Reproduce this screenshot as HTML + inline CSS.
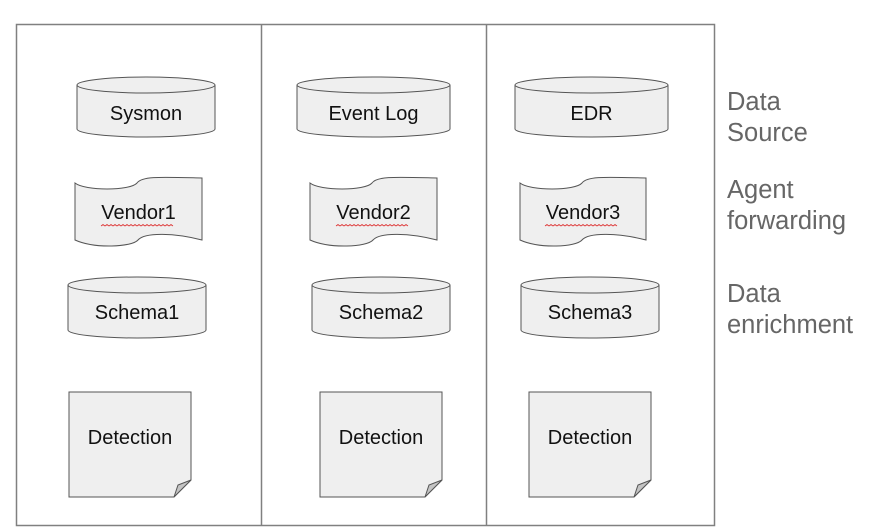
<!DOCTYPE html>
<html><head><meta charset="utf-8"><style>
html,body{margin:0;padding:0;background:#fff;}
svg{display:block;}
text{font-family:"Liberation Sans",sans-serif;}
</style></head><body>
<svg width="874" height="532" viewBox="0 0 874 532" xmlns="http://www.w3.org/2000/svg">
<g fill="none" stroke="#808080" stroke-width="1.5">
<rect x="16.5" y="24.5" width="698" height="501"/>
<line x1="261.5" y1="24.5" x2="261.5" y2="525.5"/>
<line x1="486.5" y1="24.5" x2="486.5" y2="525.5"/>
</g>
<g fill="#efefef" stroke="#555" stroke-width="1">
<path d="M77,85 A69,8 0 0 1 215,85 L215,129 A69,8 0 0 1 77,129 Z"/><path d="M77,85 A69,8 0 0 0 215,85" fill="none"/>
<path d="M297,85 A76.5,8 0 0 1 450,85 L450,129 A76.5,8 0 0 1 297,129 Z"/><path d="M297,85 A76.5,8 0 0 0 450,85" fill="none"/>
<path d="M515,85 A76.5,8 0 0 1 668,85 L668,129 A76.5,8 0 0 1 515,129 Z"/><path d="M515,85 A76.5,8 0 0 0 668,85" fill="none"/>
<path d="M68,285 A69,8 0 0 1 206,285 L206,330 A69,8 0 0 1 68,330 Z"/><path d="M68,285 A69,8 0 0 0 206,285" fill="none"/>
<path d="M312,285 A69,8 0 0 1 450,285 L450,330 A69,8 0 0 1 312,330 Z"/><path d="M312,285 A69,8 0 0 0 450,285" fill="none"/>
<path d="M521,285 A69,8 0 0 1 659,285 L659,330 A69,8 0 0 1 521,330 Z"/><path d="M521,285 A69,8 0 0 0 659,285" fill="none"/>
<path d="M75,183 C85,191 130,191 137,183 C142,176 160,177 202,178 L202,240 C175,233 145,232 138,240 C132,247 95,249 75,240 Z"/>
<path d="M310,183 C320,191 365,191 372,183 C377,176 395,177 437,178 L437,240 C410,233 380,232 373,240 C367,247 330,249 310,240 Z"/>
<path d="M520,183 C530,191 575,191 582,183 C587,176 605,177 646,178 L646,240 C619,233 589,232 582,240 C576,247 540,249 520,240 Z"/>
<path d="M69,392 L191,392 L191,480 L174,497 L69,497 Z"/>
<path d="M320,392 L442,392 L442,480 L425,497 L320,497 Z"/>
<path d="M529,392 L651,392 L651,480 L634,497 L529,497 Z"/>
</g>
<g fill="#c4c4c4" stroke="#555" stroke-width="1">
<path d="M191,480 L178,485 L174,497 Z"/>
<path d="M442,480 L429,485 L425,497 Z"/>
<path d="M651,480 L638,485 L634,497 Z"/>
</g>
<g font-size="20" fill="#111" text-anchor="middle">
<text x="146" y="120">Sysmon</text>
<text x="373.5" y="120">Event Log</text>
<text x="591.5" y="120">EDR</text>
<text x="138.5" y="219">Vendor1</text>
<text x="373.5" y="219">Vendor2</text>
<text x="583" y="219">Vendor3</text>
<text x="137" y="319">Schema1</text>
<text x="381" y="319">Schema2</text>
<text x="590" y="319">Schema3</text>
<text x="130" y="444">Detection</text>
<text x="381" y="444">Detection</text>
<text x="590" y="444">Detection</text>
</g>
<g stroke="#d33" stroke-width="0.8" fill="none">
<path d="M101,226 l2,-1.5 l2,1.5 l2,-1.5 l2,1.5 l2,-1.5 l2,1.5 l2,-1.5 l2,1.5 l2,-1.5 l2,1.5 l2,-1.5 l2,1.5 l2,-1.5 l2,1.5 l2,-1.5 l2,1.5 l2,-1.5 l2,1.5 l2,-1.5 l2,1.5 l2,-1.5 l2,1.5 l2,-1.5 l2,1.5 l2,-1.5 l2,1.5 l2,-1.5 l2,1.5 l2,-1.5 l2,1.5 l2,-1.5 l2,1.5 l2,-1.5 l2,1.5 l2,-1.5 l2,1.5"/>
<path d="M336,226 l2,-1.5 l2,1.5 l2,-1.5 l2,1.5 l2,-1.5 l2,1.5 l2,-1.5 l2,1.5 l2,-1.5 l2,1.5 l2,-1.5 l2,1.5 l2,-1.5 l2,1.5 l2,-1.5 l2,1.5 l2,-1.5 l2,1.5 l2,-1.5 l2,1.5 l2,-1.5 l2,1.5 l2,-1.5 l2,1.5 l2,-1.5 l2,1.5 l2,-1.5 l2,1.5 l2,-1.5 l2,1.5 l2,-1.5 l2,1.5 l2,-1.5 l2,1.5 l2,-1.5 l2,1.5"/>
<path d="M545,226 l2,-1.5 l2,1.5 l2,-1.5 l2,1.5 l2,-1.5 l2,1.5 l2,-1.5 l2,1.5 l2,-1.5 l2,1.5 l2,-1.5 l2,1.5 l2,-1.5 l2,1.5 l2,-1.5 l2,1.5 l2,-1.5 l2,1.5 l2,-1.5 l2,1.5 l2,-1.5 l2,1.5 l2,-1.5 l2,1.5 l2,-1.5 l2,1.5 l2,-1.5 l2,1.5 l2,-1.5 l2,1.5 l2,-1.5 l2,1.5 l2,-1.5 l2,1.5 l2,-1.5 l2,1.5"/>
</g>
<g font-size="25.5" fill="#666">
<text x="727" y="110">Data</text>
<text x="727" y="141">Source</text>
<text x="727" y="198">Agent</text>
<text x="727" y="229">forwarding</text>
<text x="727" y="302">Data</text>
<text x="727" y="333">enrichment</text>
</g>
</svg>
</body></html>
